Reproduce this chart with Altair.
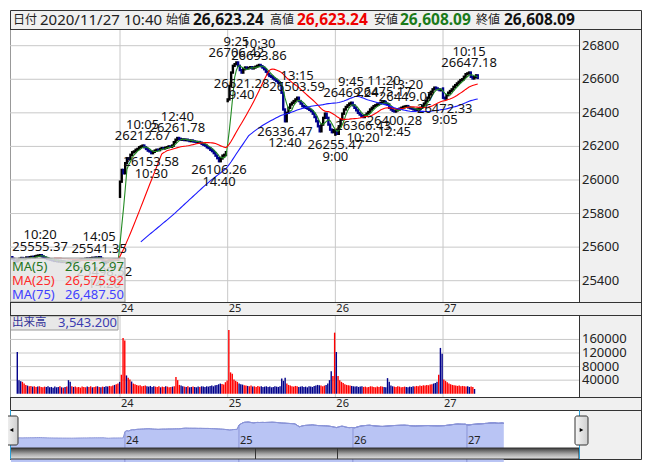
import altair as alt
import pandas as pd

FONT = "Noto Sans, Noto Sans CJK JP"

# ------------------------------------------------------------------ data
day_labels = ["20", "24", "25", "26", "27"]
day_open_prices = [25540, 25900, 26470, 26270, 26545]

closes_d20 = [
    25530, 25520, 25515, 25522, 25530, 25535, 25528, 25532, 25538, 25535,
    25540, 25542, 25538, 25545, 25548, 25550, 25552, 25545, 25540, 25535,
    25530, 25528, 25525, 25522, 25518, 25520, 25515, 25518, 25512, 25515, 25512,
    25510, 25512, 25508, 25512, 25515, 25518, 25520, 25522, 25525, 25528,
    25525, 25530, 25532, 25530, 25534, 25536, 25535, 25538, 25535, 25540,
    25530, 25515, 25505, 25512, 25518, 25522, 25520, 25524, 25526, 25525, 25527.37,
]
closes_d24 = [
    25990, 26060, 26040, 26100, 26130, 26125, 26150, 26165, 26170, 26180,
    26185, 26195, 26200, 26205, 26195, 26185, 26175, 26170, 26160, 26168,
    26175, 26180, 26178, 26185, 26190, 26188, 26192, 26195, 26200, 26198, 26205,
    26225, 26240, 26250, 26245, 26240, 26242, 26238, 26240, 26236, 26232,
    26235, 26230, 26228, 26225, 26226, 26222, 26215, 26210, 26205, 26195,
    26190, 26180, 26172, 26160, 26145, 26130, 26112, 26128, 26145, 26150, 26165.59,
]
closes_d25 = [
    26480, 26560, 26640, 26680, 26690, 26700, 26680, 26655, 26640, 26660,
    26670, 26665, 26668, 26672, 26665, 26670, 26675, 26680, 26685, 26678,
    26670, 26660, 26645, 26630, 26620, 26615, 26605, 26598, 26590, 26580, 26575,
    26520, 26420, 26350, 26400, 26430, 26450, 26460, 26470, 26480, 26490,
    26470, 26455, 26440, 26435, 26430, 26425, 26418, 26410, 26395, 26375,
    26350, 26320, 26290, 26330, 26370, 26395, 26370, 26330, 26300, 26285, 26296.86,
]
closes_d26 = [
    26295, 26275, 26320, 26360, 26395, 26420, 26435, 26445, 26455, 26460,
    26445, 26430, 26415, 26400, 26390, 26380, 26375, 26385, 26395, 26405,
    26420, 26430, 26440, 26445, 26450, 26455, 26460, 26462, 26465, 26455, 26450,
    26430, 26420, 26412, 26408, 26415, 26420, 26425, 26430, 26435, 26438,
    26440, 26432, 26428, 26425, 26420, 26418, 26420, 26425, 26430, 26440,
    26455, 26470, 26490, 26510, 26525, 26540, 26550, 26545, 26540, 26535, 26537.31,
]
closes_d27 = [
    26490, 26485, 26505, 26520, 26530, 26540, 26555, 26565, 26575, 26585,
    26595, 26600, 26615, 26630, 26635, 26640, 26615, 26605, 26612, 26623.24, 26608.09,
]

volumes_d20 = [
    123000, 40000, 37000, 35000, 30000, 26000, 24000, 22000, 23000, 21000,
    22000, 20000, 21000, 22000, 20000, 19000, 21000, 20000, 22000, 19000,
    20000, 18000, 21000, 19000, 20000, 22000, 19000, 18000, 20000, 21000, 40000,
    35000, 22000, 20000, 21000, 19000, 20000, 18000, 21000, 20000, 19000,
    21000, 20000, 22000, 19000, 20000, 21000, 22000, 20000, 19000, 21000,
    20000, 22000, 21000, 23000, 22000, 24000, 26000, 28000, 30000, 35000, 56000,
]
volumes_d24 = [
    164000, 157000, 54000, 47000, 42000, 36000, 30000, 28000, 26000, 24000,
    25000, 22000, 23000, 24000, 22000, 21000, 23000, 20000, 22000, 21000,
    20000, 22000, 19000, 21000, 20000, 22000, 21000, 19000, 20000, 21000, 22000,
    49000, 40000, 26000, 24000, 22000, 21000, 20000, 22000, 19000, 20000,
    21000, 20000, 19000, 21000, 20000, 22000, 21000, 20000, 22000, 21000,
    23000, 24000, 22000, 25000, 26000, 28000, 30000, 29000, 27000, 34000, 39000,
]
volumes_d25 = [
    188000, 63000, 59000, 42000, 38000, 35000, 30000, 28000, 27000, 25000,
    24000, 23000, 22000, 24000, 21000, 22000, 20000, 23000, 21000, 22000,
    20000, 21000, 22000, 20000, 21000, 19000, 20000, 22000, 21000, 20000, 22000,
    45000, 38000, 47000, 30000, 26000, 24000, 22000, 21000, 23000, 22000,
    20000, 21000, 22000, 20000, 21000, 19000, 22000, 21000, 20000, 23000,
    24000, 26000, 25000, 24000, 22000, 24000, 26000, 30000, 40000, 66000, 52000,
]
volumes_d26 = [
    180000, 123000, 52000, 40000, 35000, 32000, 28000, 26000, 25000, 24000,
    23000, 22000, 21000, 22000, 20000, 21000, 22000, 20000, 21000, 19000,
    20000, 22000, 21000, 20000, 19000, 21000, 20000, 22000, 21000, 20000, 19000,
    46000, 35000, 24000, 22000, 21000, 20000, 22000, 21000, 19000, 20000,
    21000, 20000, 19000, 21000, 20000, 22000, 21000, 23000, 22000, 24000,
    23000, 25000, 24000, 26000, 25000, 27000, 28000, 30000, 32000, 35000, 56000,
]
volumes_d27 = [
    135000, 118000, 42000, 38000, 34000, 30000, 28000, 26000, 25000, 24000,
    23000, 24000, 22000, 23000, 22000, 21000, 22000, 20000, 21000, 20000, 14000,
]

price_ticks = [25400, 25600, 25800, 26000, 26200, 26400, 26600, 26800]
volume_ticks = [40000, 80000, 120000, 160000]

label_days = ["20", "20", "20", "24", "24", "24", "24", "25", "25", "25",
              "25", "25", "26", "26", "26", "26", "26", "26", "27", "27"]
label_times = ["10:20", "14:05", "14:20", "10:05", "10:30", "12:40", "14:40", "9:25", "10:30", "9:40",
               "12:40", "13:15", "9:00", "9:45", "10:20", "11:20", "12:45", "13:20", "9:05", "10:15"]
label_values = [25555.37, 25541.35, 25498.52, 26212.67, 26153.58, 26261.78, 26106.26, 26706.42, 26693.86, 26621.28,
                26336.47, 26503.59, 26255.47, 26469.24, 26366.43, 26475.17, 26400.28, 26449.07, 26472.33, 26647.18]
label_kinds = ["H", "H", "L", "H", "L", "H", "L", "H", "H", "L",
               "L", "H", "L", "H", "L", "H", "L", "H", "L", "H"]

ma_names = ["MA(5)", "MA(25)", "MA(75)"]
ma_windows = [5, 25, 75]
ma_values = ["26,612.97", "26,575.92", "26,487.50"]

header_keys = ["日付", "始値", "高値", "安値", "終値"]
header_values = ["2020/11/27 10:40", "26,623.24", "26,623.24", "26,608.09", "26,608.09"]
volume_title = "出来高"
volume_value = "3,543.200"

# ------------------------------------------------------------------ tables
slot_times = [f"{(540 + 5 * k) // 60}:{(540 + 5 * k) % 60:02d}" for k in range(31)] + \
             [f"{(750 + 5 * k) // 60}:{(750 + 5 * k) % 60:02d}" for k in range(31)]

day_closes = [closes_d20, closes_d24, closes_d25, closes_d26, closes_d27]
day_vols = [volumes_d20, volumes_d24, volumes_d25, volumes_d26, volumes_d27]

rows, day_start = [], []
idx = 0
for lab, op, cl, vo in zip(day_labels, day_open_prices, day_closes, day_vols):
    day_start.append(idx)
    for k, (c, v) in enumerate(zip(cl, vo)):
        o = op if k == 0 else cl[k - 1]
        up = c >= o
        rows.append(dict(i=idx, day=lab, open=o, close=c, vol=v,
                         ccol="#000000" if up else "#00008b",
                         vcol="#ff0000" if up else "#00008b"))
        idx += 1
bars = pd.DataFrame(rows)

lab_rows = []
for d, t, v, kd in zip(label_days, label_times, label_values, label_kinds):
    lab_rows.append(dict(i=day_start[day_labels.index(d)] + slot_times.index(t),
                         t=t, v=v, kind=kd))
labels = pd.DataFrame(lab_rows)

days_df = pd.DataFrame({"i": day_start[1:], "label": day_labels[1:]})
one = pd.DataFrame({"a": [0]})

# ------------------------------------------------------------------ layout
W, H, PW = 632, 450, 569
MAIN_T, MAIN_B = 19, 292
VOL_T, VOL_B = 305, 387
NAV_T, NAV_B = 400, 438
BOT = 449
LINE = "#333333"
GRID = "#c8c8c8"
BG = "#f0f0f0"

x_main = alt.Scale(domain=[-1.34, 326.3], range=[0, PW], nice=False, zero=False)
y_price = alt.Scale(domain=[25400, 26800], range=[270.7, 35.7], nice=False, zero=False)
y_vol = alt.Scale(domain=[-9000, 232000], range=[386.8, 305], nice=False, zero=False)
x_nav = alt.Scale(domain=[-0.54, 308.9], range=[0, PW], nice=False, zero=False)
y_nav = alt.Scale(domain=[24836, 27587], range=[437.3, 400], nice=False, zero=False)


def X(field="i:Q", scale=x_main):
    return alt.X(field, scale=scale, axis=None)


def Y(field, scale=y_price):
    return alt.Y(field, scale=scale, axis=None)


def rect(x1, x2, y1, y2, **kw):
    return alt.Chart(one).mark_rect(**kw).encode(
        x=alt.value(x1), x2=alt.value(x2), y=alt.value(y1), y2=alt.value(y2))


def hline(y, x1, x2, color=LINE):
    return alt.Chart(one).mark_rule(color=color, strokeWidth=1).encode(
        y=alt.value(y), x=alt.value(x1), x2=alt.value(x2))


def vline(x, y1, y2, color=LINE):
    return alt.Chart(one).mark_rule(color=color, strokeWidth=1).encode(
        x=alt.value(x), y=alt.value(y1), y2=alt.value(y2))


def label(text, x, y, size=13, color="#111111", weight="normal", align="left"):
    return alt.Chart(one).mark_text(
        text=text, font=FONT, fontSize=size, color=color, fontWeight=weight,
        align=align, baseline="middle").encode(x=alt.value(x), y=alt.value(y))


layers = []
# backgrounds
layers.append(rect(0.5, W - 0.5, 0.5, BOT + 0.5, fill=BG, stroke=LINE, strokeWidth=1))
layers.append(rect(0.5, PW, MAIN_T, MAIN_B, fill="white"))
layers.append(rect(0.5, PW, VOL_T, VOL_B, fill="white"))
layers.append(rect(0.5, PW, NAV_T, NAV_B, fill="white"))

# price grid + tick labels
price_df = pd.DataFrame({"v": price_ticks})
layers.append(alt.Chart(price_df).mark_rule(color=GRID).encode(
    y=Y("v:Q"), x=alt.value(0), x2=alt.value(PW)))
layers.append(alt.Chart(price_df).mark_text(
    font=FONT, fontSize=13, color="#222222", align="left", baseline="middle").encode(
    y=Y("v:Q"), x=alt.value(PW + 3), text=alt.Text("v:Q", format="d")))
# volume grid + tick labels
vol_df = pd.DataFrame({"v": volume_ticks})
layers.append(alt.Chart(vol_df).mark_rule(color=GRID).encode(
    y=Y("v:Q", y_vol), x=alt.value(0), x2=alt.value(PW)))
layers.append(alt.Chart(vol_df).mark_text(
    font=FONT, fontSize=13, color="#222222", align="left", baseline="middle").encode(
    y=Y("v:Q", y_vol), x=alt.value(PW + 3), text=alt.Text("v:Q", format="d")))
# day gridlines
for (t, b) in [(MAIN_T, MAIN_B), (VOL_T, VOL_B)]:
    layers.append(alt.Chart(days_df).mark_rule(color=GRID).encode(
        x=X(), y=alt.value(t), y2=alt.value(b)))

# volume bars
layers.append(alt.Chart(bars).mark_bar(size=1.4).encode(
    x=X(), y=Y("vol:Q", y_vol), y2=alt.value(386.8),
    color=alt.Color("vcol:N", scale=None)))

# candles
layers.append(alt.Chart(bars).mark_rule(strokeWidth=2.4, strokeCap="square").encode(
    x=X(), y=Y("open:Q"), y2=alt.Y2("close:Q"),
    color=alt.Color("ccol:N", scale=None)))

# moving averages
ma_line_colors = ["#228b22", "#ff0000", "#1a1aff"]
for n, col in zip(ma_windows, ma_line_colors):
    layers.append(alt.Chart(bars).transform_window(
        ma="mean(close)", frame=[-(n - 1), 0], sort=[alt.SortField("i")]
    ).transform_filter(alt.datum.i >= n - 1).mark_line(color=col, strokeWidth=1.1).encode(
        x=X(), y=Y("ma:Q")))

# extreme labels
for kind, fld, dy in [("H", "t:N", -19.5), ("H", "v:Q", -8), ("L", "v:Q", 8), ("L", "t:N", 19.5)]:
    txt = alt.Text(fld, format=".2f") if fld == "v:Q" else alt.Text(fld)
    layers.append(alt.Chart(labels).transform_filter(alt.datum.kind == kind).mark_text(
        font=FONT, fontSize=13, color="#111111", baseline="middle", dy=dy).encode(
        x=X(), y=Y("v:Q"), text=txt))

# MA legend box
layers.append(rect(0.5, 115, 248, MAIN_B, fill="#e4e4e4", fillOpacity=0.85, stroke="#9a9a9a"))
ma_text_colors = ["#237523", "#ff2a2a", "#4040ff"]
for k, (nm, val, col) in enumerate(zip(ma_names, ma_values, ma_text_colors)):
    yy = 257 + 14 * k
    layers.append(label(nm, 2, yy, color=col))
    layers.append(label(val, 114, yy, color=col, align="right"))

# volume title box
layers.append(rect(0.5, 108, 306, 320, fill="#e8e8e8", stroke="#9a9a9a"))
layers.append(label(volume_title, 2, 313, size=11.5, color="#333399"))
layers.append(label(volume_value, 48, 313, color="#3c3cb0"))

# navigator
layers.append(alt.Chart(bars).mark_area(
    color="#b9c4f4", opacity=1, line={"color": "#8a94d8", "strokeWidth": 1}).encode(
    x=X("i:Q", x_nav), y=Y("close:Q", y_nav), y2=alt.value(NAV_B), detail="day:N"))
layers.append(alt.Chart(days_df).mark_text(
    font=FONT, fontSize=11, color="#222222", align="left", baseline="middle", dx=1).encode(
    x=X("i:Q", x_nav), y=alt.value(431), text="label:N"))

# scrollbar
layers.append(rect(0.5, PW, NAV_B, BOT, stroke=LINE, strokeWidth=1, fill={
    "gradient": "linear", "x1": 0, "x2": 0, "y1": 0, "y2": 1,
    "stops": [{"offset": 0, "color": "#3c3c3c"}, {"offset": 0.55, "color": "#a8a8a8"},
              {"offset": 1, "color": "#e2e2e2"}]}))
layers.append(vline(245.5, NAV_B, BOT))
layers.append(vline(327.5, NAV_B, BOT))

# strips: day labels
for yy in [298.5, 393.5]:
    layers.append(alt.Chart(days_df).mark_text(
        font=FONT, fontSize=11, color="#222222", align="left", baseline="middle", dx=1).encode(
        x=X(), y=alt.value(yy), text="label:N"))

# frame lines
layers.append(hline(MAIN_T + 0.5, 0, W))
for yy in [MAIN_B, VOL_T, VOL_B, NAV_T]:
    layers.append(hline(yy + 0.5, 0, W))
layers.append(vline(PW + 0.5, MAIN_T, MAIN_B))
layers.append(vline(PW + 0.5, VOL_T, VOL_B))
layers.append(vline(0.5, NAV_T, BOT, color="#2a9fd6"))
layers.append(vline(PW + 0.5, NAV_T, BOT, color="#2a9fd6"))

# navigator buttons
btn_fill = {"gradient": "linear", "x1": 0, "x2": 1, "y1": 0, "y2": 0,
            "stops": [{"offset": 0, "color": "#f6f6f6"}, {"offset": 1, "color": "#cfcfcf"}]}
layers.append(rect(-5, 8, 406, 435, fill=btn_fill, stroke=LINE, strokeWidth=1, cornerRadius=2))
layers.append(rect(565, 578, 406, 435, fill=btn_fill, stroke=LINE, strokeWidth=1, cornerRadius=2))
layers.append(alt.Chart(one).mark_point(shape="triangle-left", filled=True, size=18, color="black",
                                        opacity=1).encode(x=alt.value(1.5), y=alt.value(420)))
layers.append(alt.Chart(one).mark_point(shape="triangle-right", filled=True, size=18, color="black",
                                        opacity=1).encode(x=alt.value(571.5), y=alt.value(420)))

# header
key_x = [3, 156, 260, 364, 466]
val_x = [30, 183, 287, 390, 494]
val_colors = ["#222222", "#111111", "#ee0000", "#1a7a1a", "#111111"]
val_weights = ["normal", "bold", "bold", "bold", "bold"]
val_sizes = [15, 15.5, 15.5, 15.5, 15.5]
for kx, vx, key, val, col, wt, sz in zip(key_x, val_x, header_keys, header_values,
                                         val_colors, val_weights, val_sizes):
    layers.append(label(key, kx, 9.5, size=12, color="#222222"))
    layers.append(label(val, vx, 9.5, size=sz, color=col, weight=wt))

chart = alt.layer(*layers).resolve_scale(x="independent", y="independent").properties(
    width=W, height=H,
    autosize=alt.AutoSizeParams(type="none"),
    padding={"left": 2, "top": 2, "right": 2, "bottom": 2},
).configure_view(stroke=None)

chart.save("out.html", embed_options={"renderer": "svg", "actions": False})
